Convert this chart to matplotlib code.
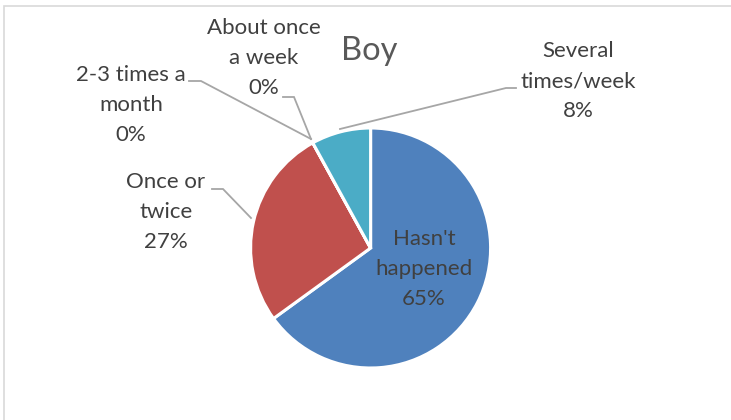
import matplotlib
matplotlib.use("Agg")
import matplotlib.pyplot as plt
from matplotlib.patches import Rectangle

categories = ["Hasn't happened", "Once or twice", "2-3 times a month",
              "About once a week", "Several times/week"]
values = [65, 27, 0, 0, 8]
label_lines = ["Hasn't\nhappened", "Once or\ntwice", "2-3 times a\nmonth",
               "About once\na week", "Several\ntimes/week"]
colors = ["#4F81BD", "#C0504D", "#9BBB59", "#8064A2", "#4BACC6"]
title = "Boy"

W, H = 731, 420
plt.rcParams['font.family'] = ['Lato', 'DejaVu Sans']

fig = plt.figure(figsize=(W / 100, H / 100), dpi=100)
ax = fig.add_axes([0, 0, 1, 1])
ax.set_xlim(0, W)
ax.set_ylim(0, H)
ax.set_aspect('equal')
ax.axis('off')

def Y(y):
    return H - y

# border
fig.patches.append(Rectangle((4 / W, -0.01), 1.02, (H - 6) / H + 0.01, transform=fig.transFigure,
                             fill=False, edgecolor="#D9D9D9", linewidth=1.2))

ax.pie(values, colors=colors, startangle=90, counterclock=False,
       center=(370.6, Y(248)), radius=120,
       wedgeprops=dict(edgecolor="white", linewidth=2.2))
ax.set_xlim(0, W)
ax.set_ylim(0, H)

ax.text(369, Y(51), title, ha='center', va='center', fontsize=23.5, color="#595959")

txt_color = "#404040"
label_pos = {
    "Hasn't happened": (424, 269),
    "Once or twice": (166, 212),
    "2-3 times a month": (131, 105),
    "About once a week": (264, 58),
    "Several times/week": (578, 81),
}
for cat, val, lab in zip(categories, values, label_lines):
    x, y = label_pos[cat]
    ax.text(x, Y(y), f"{lab}\n{val}%", ha='center', va='center', fontsize=16,
            color=txt_color, linespacing=1.6)

leaders = [
    [(189, 81), (201, 81), (311, 139)],
    [(283, 97), (294, 97), (311, 139)],
    [(516, 88), (506, 88), (340, 129)],
    [(212, 189), (223, 189), (251, 218)],
]
for pts in leaders:
    ax.plot([p[0] for p in pts], [Y(p[1]) for p in pts], color="#A6A6A6", linewidth=1.3,
            solid_joinstyle='miter')

fig.savefig("out.png", dpi=100)
